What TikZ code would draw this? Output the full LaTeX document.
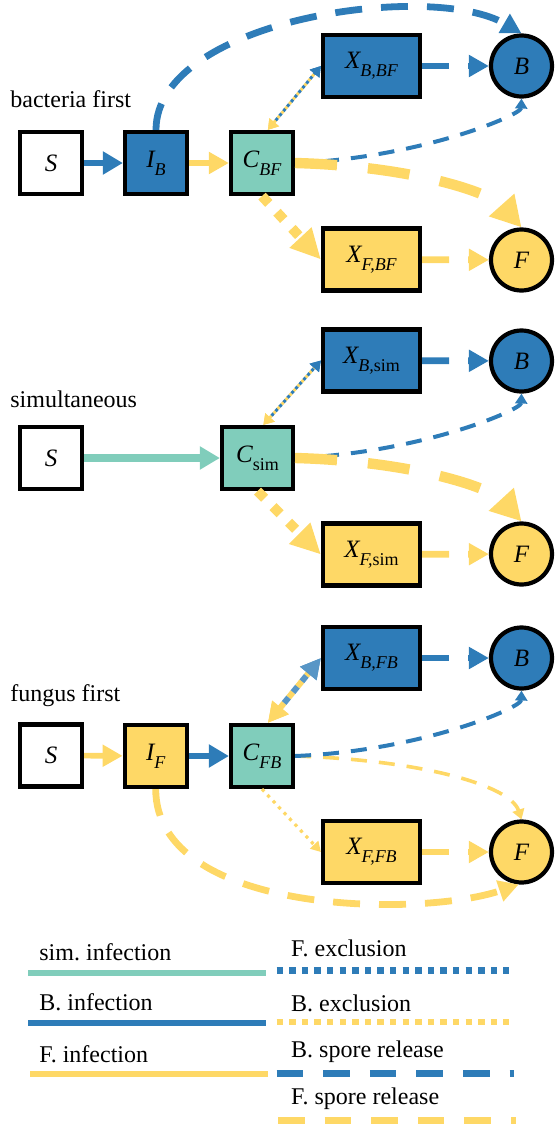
\documentclass[tikz,border=0pt]{standalone}
\usepackage{fontspec}
\setmainfont{Liberation Serif}
\usetikzlibrary{arrows.meta}
\definecolor{cB}{RGB}{46,124,184}
\definecolor{cF}{RGB}{254,216,102}
\definecolor{cC}{RGB}{128,205,187}
\newcommand\nodefont{\fontsize{12.5}{14}\selectfont\itshape}
\newcommand\sbs[1]{\raisebox{-4pt}{\fontsize{9}{10}\selectfont #1}}
\tikzset{
 box/.style={draw=black,line width=2.1pt,minimum width=31pt,minimum height=31pt,inner sep=0pt,font=\nodefont},
 xbox/.style={box,minimum width=48.5pt},
 cbox/.style={box,minimum width=35.5pt},
 circ/.style={circle,draw=black,line width=2.1pt,minimum size=30.5pt,inner sep=0pt,font=\nodefont},
 lbl/.style={anchor=base west,inner sep=0pt,font=\fontsize{12}{14}\selectfont},
 bsolid/.style={draw=cB,line width=3.3pt,-{Triangle[length=10pt,width=11pt]}},
 fsolid/.style={draw=cF,line width=2.8pt,-{Triangle[length=10pt,width=10.5pt]}},
 csolid/.style={draw=cC,line width=3.8pt,-{Triangle[length=10pt,width=11pt]}},
 bspore/.style={draw=cB,line width=3.4pt,dash pattern=on 13.5pt off 9.5pt,-{Triangle[length=10pt,width=10.5pt]}},
 fspore/.style={bspore,draw=cF},
 fsporebig/.style={draw=cF,line width=5.2pt,dash pattern=on 21pt off 15.5pt,-{Triangle[length=15pt,width=16pt]}},
 bthin/.style={draw=cB,line width=2pt,dash pattern=on 8pt off 6pt,-{Triangle[length=5pt,width=6pt]}},
 fthin/.style={draw=cF,line width=1.8pt,dash pattern=on 8pt off 6pt,-{Triangle[length=5pt,width=6pt]}},
 fdotbig/.style={draw=cF,line width=5pt,dash pattern=on 5pt off 6pt,-{Triangle[length=15pt,width=14pt]}},
 fdotthin/.style={draw=cF,line width=1.6pt,dash pattern=on 1.6pt off 2.4pt,-{Triangle[length=5pt,width=5.5pt]}},
 mixY/.style={draw=cF,line width=1.5pt,dash pattern=on 1.5pt off 1.5pt,{Triangle[length=5pt,width=6pt,color=cF]}-{Triangle[length=5pt,width=6pt,color=cB]}},
 mixB/.style={mixY,draw=cB,dash phase=1.5pt},
 mixYbig/.style={draw=cF,line width=3pt,dash pattern=on 3.5pt off 3.5pt,{Triangle[length=10pt,width=10pt,color=cF]}-{Triangle[length=10pt,width=10pt,color=cB!80!white]}},
 mixBbig/.style={mixYbig,draw=cB!80!white,dash phase=3.5pt},
 legline/.style={line width=3.2pt},
}
\begin{document}
\begin{tikzpicture}[x=0.5pt,y=-0.5pt]
\useasboundingbox (0,0) rectangle (556,1124);
% ---------- panel 1: bacteria first
\node[lbl] (t1) at (10,107) {bacteria first};
\node[box,fill=white] (S1) at (51,163) {S};
\node[box,fill=cB] (I1) at (156,163) {I\sbs{B}};
\node[box,fill=cC] (C1) at (262,163) {C\sbs{BF}};
\node[xbox,fill=cB] (XB1) at (371.5,66) {X\sbs{B,BF}};
\node[xbox,fill=cF] (XF1) at (371.5,259.5) {X\sbs{F,BF}};
\node[circ,fill=cB] (B1) at (521.5,66) {B};
\node[circ,fill=cF] (F1) at (521.5,260) {F};
\draw[bsolid] (S1) -- (I1);
\draw[fsolid] (I1) -- (C1);
\draw[bspore] (I1.north) .. controls (156,20) and (430,-20) .. (B1.north);
\draw[bthin] (C1.east) .. controls (420,158) and (521,115) .. (B1.south);
\draw[fsporebig] (C1.east) .. controls (410,166) and (490,192) .. (F1.north);
\draw[mixY] (C1.80) -- (XB1.west);
\draw[mixB] (C1.80) -- (XB1.west);
\draw[fdotbig] (C1.south) -- (XF1.west);
\draw[bspore] (XB1) -- (B1);
\draw[fspore] (XF1) -- (F1);
% ---------- panel 2: simultaneous
\node[lbl] (t2) at (10,407) {simultaneous};
\node[box,fill=white] (S2) at (51,458) {S};
\node[cbox,fill=cC] (C2) at (257.5,458) {C\sbs{\upshape sim}};
\node[xbox,fill=cB] (XB2) at (371.5,360.5) {X\sbs{B,\upshape sim}};
\node[xbox,fill=cF] (XF2) at (371.5,554.5) {X\sbs{F,\upshape sim}};
\node[circ,fill=cB] (B2) at (521.5,361) {B};
\node[circ,fill=cF] (F2) at (521.5,554) {F};
\draw[csolid] (S2) -- (C2);
\draw[bthin] (C2.east) .. controls (420,453) and (521,410) .. (B2.south);
\draw[fsporebig] (C2.east) .. controls (410,461) and (490,487) .. (F2.north);
\draw[mixY] (C2.80) -- (XB2.west);
\draw[mixB] (C2.80) -- (XB2.west);
\draw[fdotbig] (C2.south) -- (XF2.west);
\draw[bspore] (XB2) -- (B2);
\draw[fspore] (XF2) -- (F2);
% ---------- panel 3: fungus first
\node[lbl] (t3) at (10,701) {fungus first};
\node[box,fill=white] (S3) at (51,755.5) {S};
\node[box,fill=cF] (I3) at (155.7,756) {I\sbs{F}};
\node[box,fill=cC] (C3) at (262,756) {C\sbs{FB}};
\node[xbox,fill=cB] (XB3) at (371.5,658) {X\sbs{B,FB}};
\node[xbox,fill=cF] (XF3) at (371.5,852) {X\sbs{F,FB}};
\node[circ,fill=cB] (B3) at (521.5,658) {B};
\node[circ,fill=cF] (F3) at (521.5,852) {F};
\draw[fsolid] (S3) -- (I3);
\draw[bsolid] (I3) -- (C3);
\draw[fthin] (C3.east) .. controls (420,760) and (510,785) .. (F3.north);
\draw[bthin] (C3.east) .. controls (420,751) and (521,708) .. (B3.south);
\draw[mixYbig] (C3.80) -- (XB3.west);
\draw[mixBbig] (C3.80) -- (XB3.west);
\draw[fdotthin] (C3.south) -- (XF3.west);
\draw[fspore] (I3.south) .. controls (156,915) and (420,918) .. (F3.265);
\draw[bspore] (XB3) -- (B3);
\draw[fspore] (XF3) -- (F3);
% ---------- legend
\node[lbl] (l1) at (39,960) {sim.\ infection};
\draw[legline,cC] (28,972.7) -- (266,972.7);
\node[lbl] (l2) at (39,1010.7) {B. infection};
\draw[legline,cB] (28,1022.7) -- (266,1022.7);
\node[lbl] (l3) at (39,1062.7) {F. infection};
\draw[legline,cF] (30,1073.7) -- (268,1073.7);
\node[lbl] (l4) at (290.8,956) {F. exclusion};
\draw[legline,cB,dash pattern=on 3.2pt off 3.1pt] (276.6,970.3) -- (509,970.3);
\node[lbl] (l5) at (290.8,1011.7) {B. exclusion};
\draw[legline,cF,dash pattern=on 3.2pt off 3.1pt] (276.6,1021.7) -- (509,1021.7);
\node[lbl] (l6) at (290.8,1057.3) {B. spore release};
\draw[legline,cB,line width=3.4pt,dash pattern=on 13.3pt off 10pt] (276.6,1073.3) -- (514,1073.3);
\node[lbl] (l7) at (290.8,1104.3) {F. spore release};
\draw[legline,cF,line width=3.6pt,dash pattern=on 13.3pt off 10pt] (278,1121) -- (516,1121);
\end{tikzpicture}
\end{document}
